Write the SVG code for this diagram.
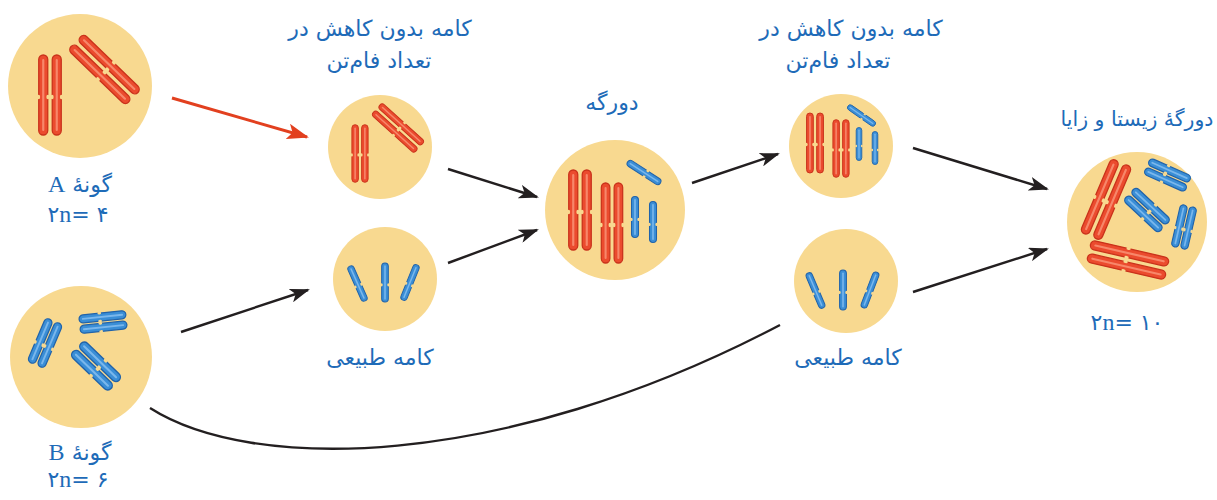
<svg xmlns="http://www.w3.org/2000/svg" xmlns:xlink="http://www.w3.org/1999/xlink" width="1217" height="500" viewBox="0 0 1217 500">
<style>
.cell{fill:#F8D990}
.rf{fill:#EB4B2E;stroke:#C9321B;stroke-width:1.3}
.rh{stroke:#F7876A;stroke-width:2.2;stroke-linecap:round}
.bf{fill:#3A8ED6;stroke:#2163AA;stroke-width:1.3}
.bh{stroke:#7AB7EC;stroke-width:2;stroke-linecap:round}
.nt{fill:#F8D990}
.lbl{font-family:"DejaVu Sans",sans-serif;fill:#1E6BB8;text-anchor:middle;font-size:22px}
.num{direction:ltr;unicode-bidi:bidi-override}
.lat{font-family:"Liberation Serif",serif;font-size:24px}
.arr{fill:none;stroke:#231F20;stroke-width:2.4}
.arr-r{fill:none;stroke:#E2401F;stroke-width:3}
</style>
<defs>
<marker id="ah" viewBox="0 0 20 14" markerWidth="20" markerHeight="14" refX="18" refY="7" orient="auto" markerUnits="userSpaceOnUse">
<path d="M0,0 L20,7 L0,14 L5,7 Z" fill="#231F20"/>
</marker>
<marker id="ahr" viewBox="0 0 22 16" markerWidth="22" markerHeight="16" refX="20" refY="8" orient="auto" markerUnits="userSpaceOnUse">
<path d="M0,0 L22,8 L0,16 L5,8 Z" fill="#E2401F"/>
</marker>
<g id="rc">
<rect x="-4.5" y="-40" width="9" height="80" rx="4.5" class="rf"/>
<line x1="0" y1="-35" x2="0" y2="35" class="rh"/>
<ellipse cx="-4.6" cy="2" rx="1.5" ry="2.2" class="nt"/>
<ellipse cx="4.6" cy="2" rx="1.5" ry="2.2" class="nt"/>
</g>
<g id="rp"><use xlink:href="#rc" href="#rc" x="-6.75"/><use xlink:href="#rc" href="#rc" x="6.75"/></g>
<g id="bc">
<rect x="-4.25" y="-25" width="8.5" height="50" rx="4.25" class="bf"/>
<line x1="0" y1="-21" x2="0" y2="21" class="bh"/>
<ellipse cx="-4.3" cy="3" rx="1.4" ry="2" class="nt"/>
<ellipse cx="4.3" cy="3" rx="1.4" ry="2" class="nt"/>
</g>
<g id="bp"><use xlink:href="#bc" href="#bc" x="-5.5"/><use xlink:href="#bc" href="#bc" x="5.5"/></g>
</defs>

<g id="connectors">
<line class="arr-r" x1="172" y1="98" x2="307" y2="137" marker-end="url(#ahr)"/>
<line class="arr" x1="181" y1="332" x2="308" y2="290" marker-end="url(#ah)"/>
<line class="arr" x1="448" y1="169" x2="537" y2="197" marker-end="url(#ah)"/>
<line class="arr" x1="448" y1="263" x2="537" y2="230" marker-end="url(#ah)"/>
<line class="arr" x1="692" y1="183" x2="778" y2="154" marker-end="url(#ah)"/>
<line class="arr" x1="913" y1="148" x2="1047" y2="189" marker-end="url(#ah)"/>
<line class="arr" x1="913" y1="292" x2="1047" y2="249" marker-end="url(#ah)"/>
<path class="arr" d="M150,408 C250,472 500,472 780,325"/>
</g>

<g id="parentA">
<circle class="cell" cx="80" cy="86" r="72"/>
<use href="#rp" xlink:href="#rp" transform="translate(50,95)"/>
<use href="#rp" xlink:href="#rp" transform="translate(104.5,69.5) rotate(-46)"/>
<text class="lbl" x="80" y="192"><tspan class="lat">A</tspan> گونهٔ</text>
<text class="lbl num" x="78" y="222">۲<tspan class="lat">n</tspan>= ۴</text>
</g>

<g id="parentB">
<circle class="cell" cx="81" cy="357" r="71"/>
<use href="#bp" xlink:href="#bp" transform="translate(45,343) rotate(23) scale(0.95)"/>
<use href="#bp" xlink:href="#bp" transform="translate(103,322) rotate(84) scale(0.94)"/>
<use href="#bp" xlink:href="#bp" transform="translate(96,366) rotate(-46) scale(1.06)"/>
<text class="lbl" x="80" y="460"><tspan class="lat">B</tspan> گونهٔ</text>
<text class="lbl num" x="78" y="487">۲<tspan class="lat">n</tspan>= ۶</text>
</g>

<g id="gameteA">
<text class="lbl" x="380" y="36">کامه بدون کاهش در</text>
<text class="lbl" x="379" y="68">تعداد فام‌تن</text>
<circle class="cell" cx="380" cy="147" r="52"/>
<use href="#rp" xlink:href="#rp" transform="translate(360,153.5) scale(0.72)"/>
<use href="#rp" xlink:href="#rp" transform="translate(398,128) rotate(-48) scale(0.72)"/>
</g>

<g id="gameteB">
<circle class="cell" cx="385" cy="279" r="52"/>
<use href="#bc" xlink:href="#bc" transform="translate(357.5,283.5) rotate(-24) scale(0.76)"/>
<use href="#bc" xlink:href="#bc" transform="translate(385,282.5) scale(0.78)"/>
<use href="#bc" xlink:href="#bc" transform="translate(410,282.5) rotate(22) scale(0.76)"/>
<text class="lbl" x="380" y="365">کامه طبیعی</text>
</g>

<g id="hybrid">
<text class="lbl" x="612" y="110">دورگه</text>
<circle class="cell" cx="615" cy="210" r="70"/>
<use href="#rp" xlink:href="#rp" transform="translate(580,210)"/>
<use href="#rp" xlink:href="#rp" transform="translate(612,223) scale(0.95,1)"/>
<use href="#bc" xlink:href="#bc" transform="translate(635,217) scale(0.82)"/>
<use href="#bc" xlink:href="#bc" transform="translate(653,222) scale(0.82)"/>
<use href="#bc" xlink:href="#bc" transform="translate(644,172.5) rotate(-57) scale(0.78)"/>
</g>

<g id="gameteHybrid">
<text class="lbl" x="851" y="36">کامه بدون کاهش در</text>
<text class="lbl" x="838" y="68">تعداد فام‌تن</text>
<circle class="cell" cx="841" cy="146" r="52"/>
<use href="#rp" xlink:href="#rp" transform="translate(815,143) scale(0.75)"/>
<use href="#rp" xlink:href="#rp" transform="translate(841,148.5) scale(0.72)"/>
<use href="#bc" xlink:href="#bc" transform="translate(859,144) scale(0.66)"/>
<use href="#bc" xlink:href="#bc" transform="translate(875,148) scale(0.66)"/>
<use href="#bc" xlink:href="#bc" transform="translate(861.5,115.5) rotate(-55) scale(0.66)"/>
</g>

<g id="gameteB2">
<circle class="cell" cx="846" cy="281" r="52"/>
<use href="#bc" xlink:href="#bc" transform="translate(815.5,290.5) rotate(-23) scale(0.76)"/>
<use href="#bc" xlink:href="#bc" transform="translate(843,290) scale(0.8)"/>
<use href="#bc" xlink:href="#bc" transform="translate(870,290) rotate(21) scale(0.76)"/>
<text class="lbl" x="848" y="365">کامه طبیعی</text>
</g>

<g id="allopolyploid">
<text class="lbl" x="1137" y="126" style="font-size:20.5px">دورگهٔ زیستا و زایا</text>
<circle class="cell" cx="1137" cy="222" r="70"/>
<use href="#rp" xlink:href="#rp" transform="translate(1106,199.5) rotate(23)"/>
<use href="#rp" xlink:href="#rp" transform="translate(1128,260) rotate(103)"/>
<use href="#bp" xlink:href="#bp" transform="translate(1167.5,175) rotate(114) scale(0.9)"/>
<use href="#bp" xlink:href="#bp" transform="translate(1147,210) rotate(-47) scale(0.96)"/>
<use href="#bp" xlink:href="#bp" transform="translate(1184,227) rotate(13) scale(0.86)"/>
<text class="lbl num" x="1127" y="330">۲<tspan class="lat">n</tspan>= ۱۰</text>
</g>
</svg>
